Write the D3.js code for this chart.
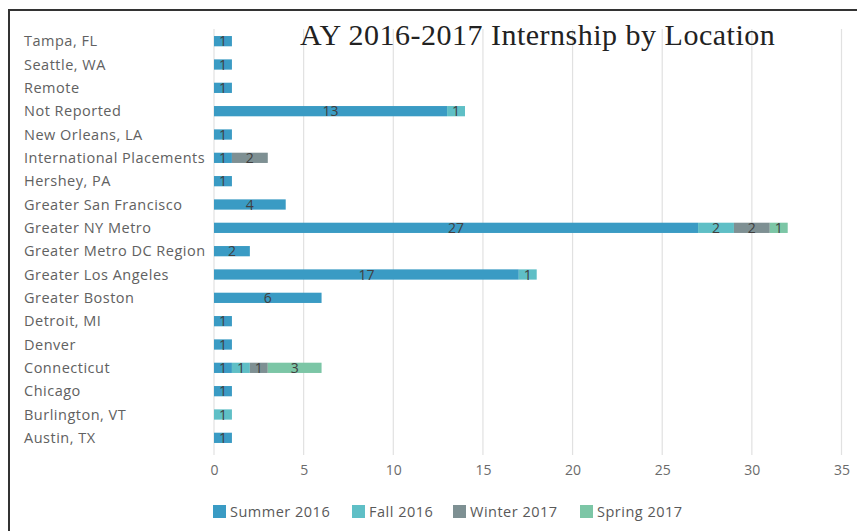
<!DOCTYPE html>
<html>
<head>
<meta charset="utf-8">
<script src="https://cdn.jsdelivr.net/npm/d3@7"></script>
<style>
  body { margin: 0; background: #fff; }
  svg { display: block; }
</style>
</head>
<body>
<svg id="chart"></svg>
<script>
// chart data
const locations = ["Tampa, FL", "Seattle, WA", "Remote", "Not Reported", "New Orleans, LA",
  "International Placements", "Hershey, PA", "Greater San Francisco", "Greater NY Metro",
  "Greater Metro DC Region", "Greater Los Angeles", "Greater Boston", "Detroit, MI", "Denver",
  "Connecticut", "Chicago", "Burlington, VT", "Austin, TX"];
const terms = ["Summer 2016", "Fall 2016", "Winter 2017", "Spring 2017"];
const summer2016 = [1, 1, 1, 13, 1, 1, 1, 4, 27, 2, 17, 6, 1, 1, 1, 1, 0, 1];
const fall2016   = [0, 0, 0, 1, 0, 0, 0, 0, 2, 0, 1, 0, 0, 0, 1, 0, 1, 0];
const winter2017 = [0, 0, 0, 0, 0, 2, 0, 0, 2, 0, 0, 0, 0, 0, 1, 0, 0, 0];
const spring2017 = [0, 0, 0, 0, 0, 0, 0, 0, 1, 0, 0, 0, 0, 0, 3, 0, 0, 0];
const xTicks = [0, 5, 10, 15, 20, 25, 30, 35];

const colors = ["#3a9bc4", "#5fbfc6", "#7e9093", "#7cc6a6"];
const W = 857, H = 531;

const table = locations.map((loc, i) => ({
  loc,
  "Summer 2016": summer2016[i],
  "Fall 2016": fall2016[i],
  "Winter 2017": winter2017[i],
  "Spring 2017": spring2017[i]
}));
const series = d3.stack().keys(terms)(table);

const svg = d3.select("#chart").attr("width", W).attr("height", H);

// frame (only top and left edges show in the crop)
svg.append("path")
  .attr("d", `M9,${H} V10 H${W}`)
  .attr("fill", "none")
  .attr("stroke", "#333")
  .attr("stroke-width", 2);

const x = d3.scaleLinear().domain([0, 35]).range([214, 841.5]);
const y = d3.scaleBand().domain(locations).range([29.5, 449.5]).paddingInner(0.56).paddingOuter(0.28);

// gridlines
svg.append("g")
  .selectAll("line")
  .data(xTicks)
  .join("line")
  .attr("x1", d => x(d)).attr("x2", d => x(d))
  .attr("y1", 29).attr("y2", 455)
  .attr("stroke", "#e1e1e1")
  .attr("stroke-width", 1.2);

// x axis labels
const xAxis = d3.axisBottom(x).tickValues(xTicks).tickSize(0).tickPadding(0);
svg.append("g")
  .attr("transform", "translate(0,462)")
  .call(xAxis)
  .call(g => g.select(".domain").remove())
  .call(g => g.selectAll("text")
    .attr("fill", "#6b6b6b")
    .attr("font-family", "Open Sans")
    .attr("font-size", 14)
    .attr("dy", "0.9em"));

// category labels (left aligned)
svg.append("g")
  .selectAll("text")
  .data(locations)
  .join("text")
  .attr("x", 24)
  .attr("y", d => y(d) + y.bandwidth() / 2)
  .attr("dy", "0.35em")
  .attr("fill", "#616161")
  .attr("font-family", "Open Sans")
  .attr("font-size", 14.5)
  .attr("letter-spacing", 0.5)
  .text(d => d);

// stacked bars
const layers = svg.append("g")
  .selectAll("g")
  .data(series)
  .join("g")
  .attr("fill", (d, i) => colors[i]);

layers.selectAll("rect")
  .data(d => d.filter(s => s[1] > s[0]))
  .join("rect")
  .attr("x", d => x(d[0]))
  .attr("y", d => y(d.data.loc))
  .attr("width", d => x(d[1]) - x(d[0]))
  .attr("height", y.bandwidth());

// data labels
layers.selectAll("text")
  .data(d => d.filter(s => s[1] > s[0]))
  .join("text")
  .attr("x", d => (x(d[0]) + x(d[1])) / 2)
  .attr("y", d => y(d.data.loc) + y.bandwidth() / 2)
  .attr("dy", "0.38em")
  .attr("text-anchor", "middle")
  .attr("fill", "#404040")
  .attr("font-family", "Open Sans")
  .attr("font-size", 14)
  .text(d => d[1] - d[0]);

// title
svg.append("text")
  .attr("x", 300)
  .attr("y", 45)
  .attr("fill", "#222")
  .attr("font-family", "Liberation Serif")
  .attr("font-size", 30)
  .attr("letter-spacing", 0.5)
  .text("AY 2016-2017 Internship by Location");

// legend
const legendX = [213, 352, 453, 580];
const legend = svg.append("g")
  .selectAll("g")
  .data(terms)
  .join("g")
  .attr("transform", (d, i) => `translate(${legendX[i]},505)`);
legend.append("rect")
  .attr("width", 13).attr("height", 13)
  .attr("fill", (d, i) => colors[i]);
legend.append("text")
  .attr("x", 17)
  .attr("y", 6.5)
  .attr("dy", "0.36em")
  .attr("fill", "#595959")
  .attr("font-family", "Open Sans")
  .attr("font-size", 14.5)
  .attr("letter-spacing", 0.5)
  .text(d => d);
</script>
</body>
</html>
